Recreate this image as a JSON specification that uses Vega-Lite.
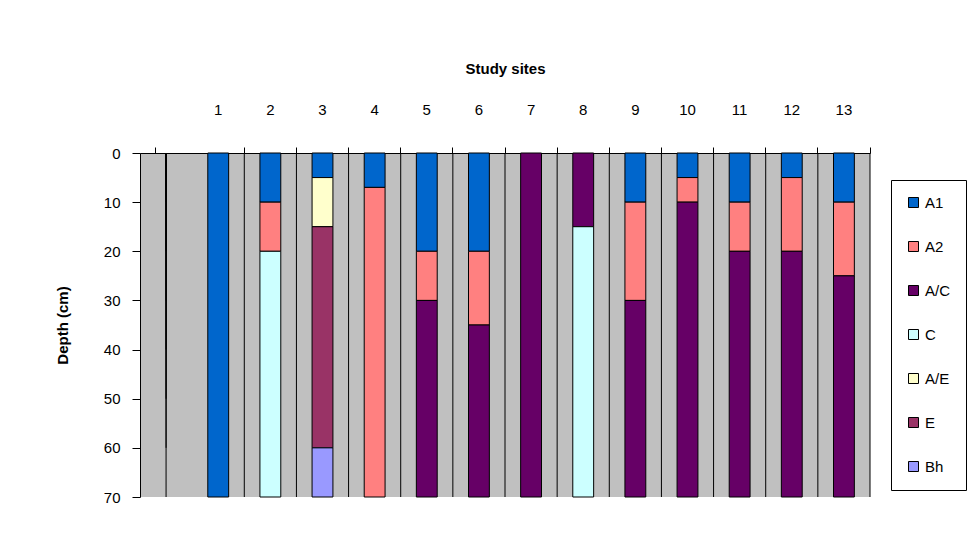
{
  "$schema": "https://vega.github.io/schema/vega-lite/v6.json",
  "width": 730,
  "height": 344,
  "autosize": {"type": "none"},
  "padding": {"left": 140, "top": 153, "right": 109, "bottom": 45},
  "background": "white",
  "datasets": {
    "horizons": [
      {"site": 1, "horizon": "A1", "top": 0, "bottom": 70},
      {"site": 2, "horizon": "A1", "top": 0, "bottom": 10},
      {"site": 2, "horizon": "A2", "top": 10, "bottom": 20},
      {"site": 2, "horizon": "C", "top": 20, "bottom": 70},
      {"site": 3, "horizon": "A1", "top": 0, "bottom": 5},
      {"site": 3, "horizon": "A/E", "top": 5, "bottom": 15},
      {"site": 3, "horizon": "E", "top": 15, "bottom": 60},
      {"site": 3, "horizon": "Bh", "top": 60, "bottom": 70},
      {"site": 4, "horizon": "A1", "top": 0, "bottom": 7},
      {"site": 4, "horizon": "A2", "top": 7, "bottom": 70},
      {"site": 5, "horizon": "A1", "top": 0, "bottom": 20},
      {"site": 5, "horizon": "A2", "top": 20, "bottom": 30},
      {"site": 5, "horizon": "A/C", "top": 30, "bottom": 70},
      {"site": 6, "horizon": "A1", "top": 0, "bottom": 20},
      {"site": 6, "horizon": "A2", "top": 20, "bottom": 35},
      {"site": 6, "horizon": "A/C", "top": 35, "bottom": 70},
      {"site": 7, "horizon": "A/C", "top": 0, "bottom": 70},
      {"site": 8, "horizon": "A/C", "top": 0, "bottom": 15},
      {"site": 8, "horizon": "C", "top": 15, "bottom": 70},
      {"site": 9, "horizon": "A1", "top": 0, "bottom": 10},
      {"site": 9, "horizon": "A2", "top": 10, "bottom": 30},
      {"site": 9, "horizon": "A/C", "top": 30, "bottom": 70},
      {"site": 10, "horizon": "A1", "top": 0, "bottom": 5},
      {"site": 10, "horizon": "A2", "top": 5, "bottom": 10},
      {"site": 10, "horizon": "A/C", "top": 10, "bottom": 70},
      {"site": 11, "horizon": "A1", "top": 0, "bottom": 10},
      {"site": 11, "horizon": "A2", "top": 10, "bottom": 20},
      {"site": 11, "horizon": "A/C", "top": 20, "bottom": 70},
      {"site": 12, "horizon": "A1", "top": 0, "bottom": 5},
      {"site": 12, "horizon": "A2", "top": 5, "bottom": 20},
      {"site": 12, "horizon": "A/C", "top": 20, "bottom": 70},
      {"site": 13, "horizon": "A1", "top": 0, "bottom": 10},
      {"site": 13, "horizon": "A2", "top": 10, "bottom": 25},
      {"site": 13, "horizon": "A/C", "top": 25, "bottom": 70}
    ],
    "depthLines": [
      {"depth": 10}, {"depth": 20}, {"depth": 30}, {"depth": 40},
      {"depth": 50}, {"depth": 60}, {"depth": 70}
    ],
    "siteLines": [
      {"site": 1}, {"site": 2}, {"site": 3}, {"site": 4}, {"site": 5},
      {"site": 6}, {"site": 7}, {"site": 8}, {"site": 9}, {"site": 10},
      {"site": 11}, {"site": 12}, {"site": 13}
    ]
  },
  "layer": [
    {
      "data": {"name": "depthLines"},
      "mark": {"type": "rule", "color": "#000000", "strokeWidth": 1},
      "encoding": {
        "y": {"field": "depth", "type": "quantitative"}
      }
    },
    {
      "data": {"name": "siteLines"},
      "mark": {"type": "rule", "color": "#000000", "strokeWidth": 1},
      "encoding": {
        "x": {"field": "site", "type": "ordinal", "bandPosition": 1.75}
      }
    },
    {
      "data": {"name": "horizons"},
      "mark": {"type": "bar", "stroke": "#000000", "strokeWidth": 1},
      "encoding": {
        "x": {"field": "site", "type": "ordinal"},
        "y": {"field": "top", "type": "quantitative"},
        "y2": {"field": "bottom"},
        "color": {
          "field": "horizon",
          "type": "nominal",
          "scale": {
            "domain": ["A1", "A2", "A/C", "C", "A/E", "E", "Bh"],
            "range": ["#0066CC", "#FF8080", "#660066", "#CCFFFF", "#FFFFCC", "#993366", "#9999FF"]
          },
          "legend": {
            "title": null,
            "orient": "none",
            "legendX": 751,
            "legendY": 27,
            "symbolType": "square",
            "symbolSize": 100,
            "symbolStrokeColor": "#000000",
            "symbolStrokeWidth": 1,
            "rowPadding": 28,
            "padding": 15,
            "strokeColor": "#000000",
            "fillColor": "#FFFFFF",
            "labelFontSize": 15,
            "labelFont": "Liberation Sans",
            "labelColor": "#000000",
            "labelOffset": 4
          }
        }
      }
    }
  ],
  "encoding": {
    "x": {
      "field": "site",
      "type": "ordinal",
      "scale": {"paddingInner": 0.6, "paddingOuter": 0.3},
      "axis": {
        "orient": "top",
        "title": "Study sites",
        "bandPosition": 1.75,
        "tickExtra": true,
        "labelAngle": 0,
        "labelPadding": 30,
        "titlePadding": 26,
        "grid": false,
        "tickColor": "#000000",
        "domainColor": "#000000",
        "tickSize": 6,
        "labelFont": "Liberation Sans",
        "labelFontSize": 15,
        "labelColor": "#000000",
        "titleFont": "Liberation Sans",
        "titleFontSize": 15,
        "titleFontWeight": "bold",
        "titleColor": "#000000"
      }
    },
    "y": {
      "type": "quantitative",
      "scale": {"domain": [0, 70], "reverse": true, "nice": false},
      "axis": {
        "title": "Depth (cm)",
        "values": [0, 10, 20, 30, 40, 50, 60, 70],
        "tickSize": 8,
        "labelPadding": 12,
        "titlePadding": 33,
        "grid": false,
        "tickColor": "#000000",
        "domainColor": "#000000",
        "labelFont": "Liberation Sans",
        "labelFontSize": 15,
        "labelColor": "#000000",
        "titleFont": "Liberation Sans",
        "titleFontSize": 15,
        "titleFontWeight": "bold",
        "titleColor": "#000000"
      }
    }
  },
  "config": {
    "view": {"fill": "#C0C0C0", "stroke": null}
  }
}
